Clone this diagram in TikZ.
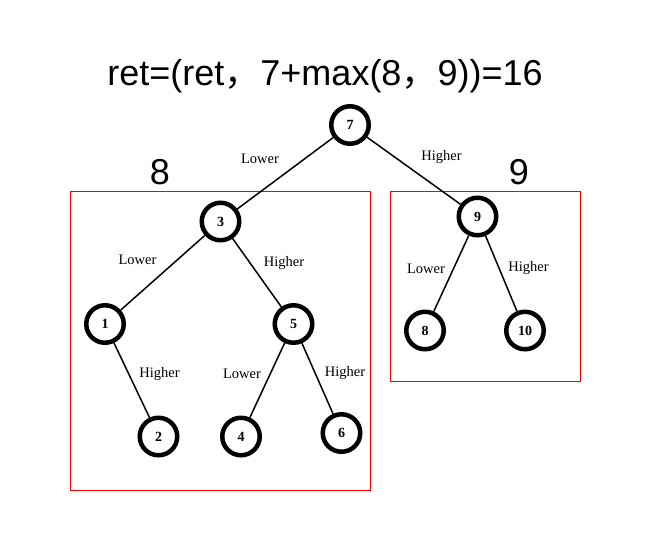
\documentclass[tikz,border=0pt]{standalone}
\usepackage{fontspec}
\setmainfont{Liberation Serif}
\newfontfamily\titlefont{Liberation Sans}
\newfontfamily\cjk{Noto Sans CJK SC}
\begin{document}
\begin{tikzpicture}[x=1pt,y=-1pt,
  tnode/.style={circle,draw=black,line width=4.5pt,minimum size=37.5pt,inner sep=0pt,
    font=\fontsize{14}{14}\selectfont\bfseries},
  edge/.style={line width=1.5pt},
  elabel/.style={font=\fontsize{14.5}{14.5}\selectfont},
  bigtxt/.style={font=\titlefont\fontsize{36}{36}\selectfont},
  box/.style={draw=red,line width=1pt}]
\useasboundingbox (0,0) rectangle (652,542);
\node[bigtxt] (title) at (325,76) {ret=(ret{\cjk ，}7+max(8{\cjk ，}9))=16};
\draw[box] (70,191.5) rectangle (370,490.5);
\draw[box] (390.5,191.5) rectangle (580,381);
\node[bigtxt] (lab8) at (160,172) {8};
\node[bigtxt] (lab9) at (519,172) {9};
\node[tnode] (n7) at (350,125) {7};
\node[tnode] (n3) at (220.5,221.5) {3};
\node[tnode] (n9) at (477.5,216.5) {9};
\node[tnode] (n1) at (105,324) {1};
\node[tnode] (n5) at (293.5,324) {5};
\node[tnode] (n2) at (158.5,436.5) {2};
\node[tnode] (n4) at (241,436.5) {4};
\node[tnode] (n6) at (341.5,433) {6};
\node[tnode] (n8) at (425,330.5) {8};
\node[tnode] (n10) at (525,330.5) {10};
\draw[edge] (n7) -- (n3);
\draw[edge] (n7) -- (n9);
\draw[edge] (n3) -- (n1);
\draw[edge] (n3) -- (n5);
\draw[edge] (n1) -- (n2);
\draw[edge] (n5) -- (n4);
\draw[edge] (n5) -- (n6);
\draw[edge] (n9) -- (n8);
\draw[edge] (n9) -- (n10);
\node[elabel] (l73) at (260,159) {Lower};
\node[elabel] (l79) at (441.5,157) {Higher};
\node[elabel] (l31) at (137.5,259.5) {Lower};
\node[elabel] (l35) at (284,263.5) {Higher};
\node[elabel] (l12) at (159.5,374) {Higher};
\node[elabel] (l54) at (242,374) {Lower};
\node[elabel] (l56) at (345,373.5) {Higher};
\node[elabel] (l98) at (426,268.5) {Lower};
\node[elabel] (l910) at (528.5,268.5) {Higher};
\end{tikzpicture}
\end{document}
